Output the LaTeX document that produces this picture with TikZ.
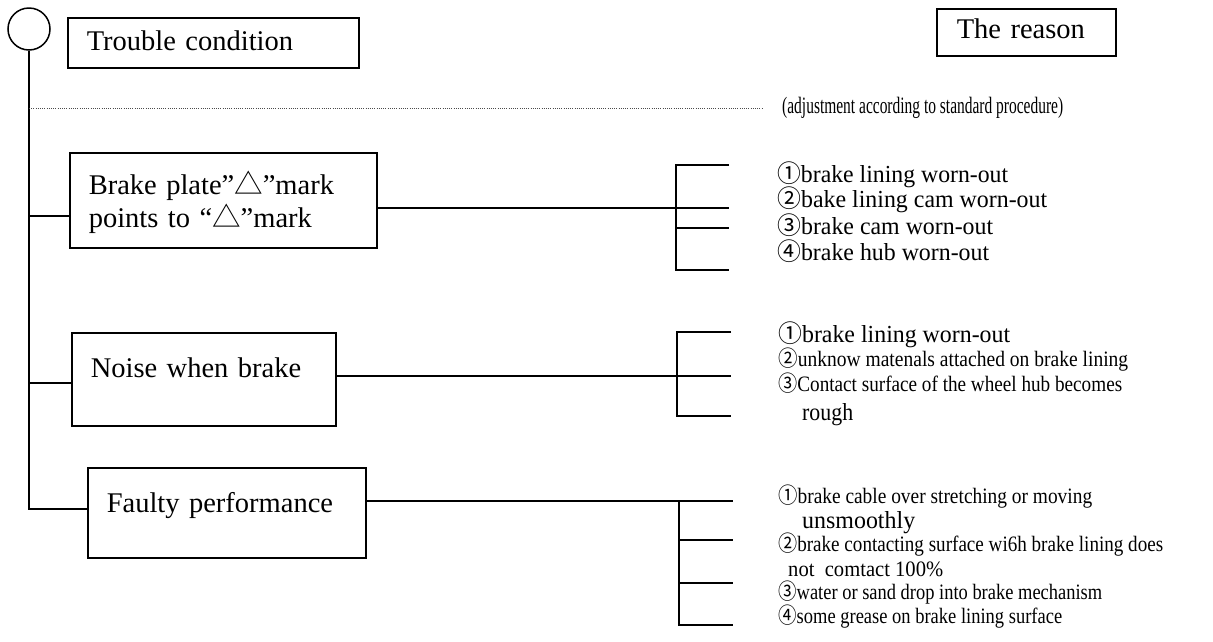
\documentclass[tikz,border=0pt]{standalone}
\usepackage{fontspec}
\usepackage{graphicx}
\setmainfont{Liberation Serif}
\newfontfamily\cjkfont{Noto Sans CJK SC}
% circled numbers and triangle marks come from the CJK face
\newcommand{\cnum}[1]{{\cjkfont #1}}
% squeeze or stretch a line of text to a given width, keeping its height
\newcommand{\fitw}[2]{\resizebox{#1pt}{\height}{#2}}

\begin{document}
\begin{tikzpicture}[x=1pt,y=-1pt,
  wire/.style={line width=1.6pt},
  box/.style={draw,line width=1.5pt,rectangle,anchor=north west,
    inner xsep=19pt,inner ysep=0pt,align=left,
    font=\fontsize{28.5}{33}\selectfont},
  cause/.style={anchor=base west,inner sep=0pt,font=\fontsize{24.5}{26}\selectfont},
  narrow/.style={cause,font=\fontsize{22}{26}\selectfont},
  dotline/.style={line width=0.9pt,black!70,dash pattern=on 1pt off 1.2pt}]
\useasboundingbox (0,0) rectangle (1213,641);

% heading row
\node[circle,draw,line width=1.5pt,minimum size=42pt,inner sep=0pt] (root) at (29,29) {};
\node[box,text width=253pt,text height=33pt,text depth=17pt] (troub) at (67,17) {Trouble condition};
\node[box,text width=139pt,inner xsep=20pt,text height=30pt,text depth=17pt] (rsn) at (936,8) {The reason};

% trouble conditions
\node[box,text width=269pt,text height=42pt,text depth=53pt] (box1) at (69,152)
  {Brake plate”\cnum{△}”mark\\points to “\cnum{△}”mark};
\node[box,text width=226pt,text height=45pt,text depth=48pt] (box2) at (71,332) {Noise when brake};
\node[box,text width=240pt,text height=45pt,text depth=45pt] (box3) at (87,467) {Faulty performance};

% adjustment note
\node[narrow,font=\fontsize{23.5}{26}\selectfont] (adj) at (782,113)
  {\fitw{281}{(adjustment according to standard procedure)}};

% causes of the first condition
\node[cause] (r11) at (777,182) {\fitw{231}{\cnum{①}brake lining worn-out}};
\node[cause] (r12) at (777,207) {\fitw{270}{\cnum{②}bake lining cam worn-out}};
\node[cause] (r13) at (777,234) {\fitw{216}{\cnum{③}brake cam worn-out}};
\node[cause] (r14) at (777,260) {\fitw{212}{\cnum{④}brake hub worn-out}};

% causes of the second condition
\node[cause] (r21) at (778,342) {\fitw{232}{\cnum{①}brake lining worn-out}};
\node[narrow] (r22) at (778,366) {\fitw{350}{\cnum{②}unknow matenals attached on brake lining}};
\node[narrow] (r23) at (778,391) {\fitw{344}{\cnum{③}Contact surface of the wheel hub becomes}};
\node[cause] (r24) at (802,420) {\fitw{51}{rough}};

% causes of the third condition
\node[narrow] (r31) at (778,503) {\fitw{314}{\cnum{①}brake cable over stretching or moving}};
\node[cause] (r32) at (802,528) {\fitw{113}{unsmoothly}};
\node[narrow] (r33) at (778,551) {\fitw{385}{\cnum{②}brake contacting surface wi6h brake lining does}};
\node[narrow] (r34) at (788,576) {\fitw{155}{not\ \ comtact 100\%}};
\node[narrow] (r35) at (778,599) {\fitw{324}{\cnum{③}water or sand drop into brake mechanism}};
\node[narrow] (r36) at (778,623) {\fitw{284}{\cnum{④}some grease on brake lining surface}};

% trunk and branches on the left
\coordinate (d0) at (root.south |- 0,108);
\coordinate (j1) at (root.south |- 0,216);
\coordinate (j2) at (root.south |- 0,383);
\coordinate (j3) at (root.south |- 0,509);
\draw[wire] (root.south) -- (j3) -- (j3 -| box3.west);
\draw[wire] (j1) -- (j1 -| box1.west);
\draw[wire] (j2) -- (j2 -| box2.west);
\draw[dotline,shorten >=19pt] (d0) -- (d0 -| adj.west);

% links to the cause brackets
\coordinate (k1) at (729,208);
\coordinate (k2) at (731,376);
\coordinate (k3) at (733,501);
\draw[wire] (k1 -| box1.east) -- (k1);
\draw[wire] (k2 -| box2.east) -- (k2);
\draw[wire] (k3 -| box3.east) -- (k3);

% brackets
\draw[wire] (729,165) -| (676,270) -- (729,270);
\draw[wire] (676,228) -- (729,228);
\draw[wire] (731,332) -| (677,416) -- (731,416);
\draw[wire] (679,501) |- (733,625);
\draw[wire] (679,540) -- (733,540);
\draw[wire] (679,583) -- (733,583);
\end{tikzpicture}
\end{document}
